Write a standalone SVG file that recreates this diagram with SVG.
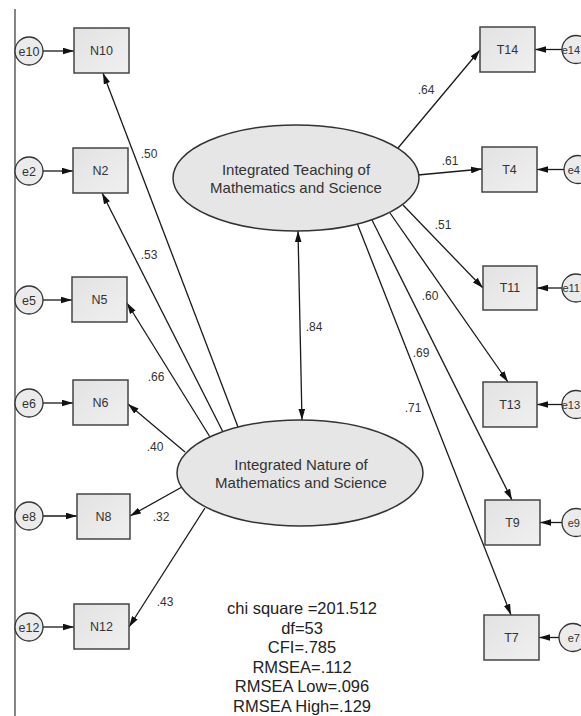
<svg xmlns="http://www.w3.org/2000/svg" width="581" height="716" viewBox="0 0 581 716">
<defs>
<linearGradient id="bg" x1="0" y1="0" x2="1" y2="1"><stop offset="0" stop-color="#e2e2e2"/><stop offset="1" stop-color="#f0f0f0"/></linearGradient>
<marker id="ah" viewBox="0 0 10 6" refX="10" refY="3" markerWidth="11" markerHeight="7" orient="auto-start-reverse" markerUnits="userSpaceOnUse"><path d="M0,0 L10,3 L0,6 z" fill="#111"/></marker>
<style>
.box{fill:url(#bg);stroke:#444;stroke-width:1.5}
.err{fill:#ebebeb;stroke:#333;stroke-width:1.3}
.lat{fill:#e6e6e6;stroke:#333;stroke-width:1.5}
.ln{stroke:#1a1a1a;stroke-width:1.3;fill:none;marker-end:url(#ah)}
.t{font-family:"Liberation Sans",Arial,sans-serif;font-size:12.5px;fill:#333;text-anchor:middle}
.te{font-family:"Liberation Sans",Arial,sans-serif;font-size:11px;fill:#333;text-anchor:end}
.lb{font-family:"Liberation Sans",Arial,sans-serif;font-size:12px;fill:#333;text-anchor:middle}
.big{font-family:"Liberation Sans",Arial,sans-serif;font-size:15px;fill:#333;text-anchor:middle}
.st{font-family:"Liberation Sans",Arial,sans-serif;font-size:16.5px;fill:#222;text-anchor:middle}
</style>
</defs>
<rect width="581" height="716" fill="#fff"/>
<line x1="15" y1="9" x2="15" y2="716" stroke="#444" stroke-width="1.3"/>
<g id="connectors">
<line class="ln" x1="43" y1="51" x2="74" y2="51"/>
<line class="ln" x1="43" y1="171" x2="73" y2="171"/>
<line class="ln" x1="43" y1="300" x2="72" y2="300"/>
<line class="ln" x1="43" y1="403" x2="73" y2="403"/>
<line class="ln" x1="43" y1="516" x2="77" y2="516"/>
<line class="ln" x1="43" y1="627" x2="74" y2="627"/>
<line class="ln" x1="562" y1="49.5" x2="535" y2="49.5"/>
<line class="ln" x1="564" y1="169.5" x2="537" y2="169.5"/>
<line class="ln" x1="562" y1="288" x2="537" y2="288"/>
<line class="ln" x1="562" y1="404.5" x2="537" y2="404.5"/>
<line class="ln" x1="562" y1="522.5" x2="540" y2="522.5"/>
<line class="ln" x1="559" y1="637.5" x2="539" y2="637.5"/>
<line class="ln" x1="238" y1="427" x2="103" y2="73"/>
<line class="ln" x1="223" y1="432" x2="102" y2="193"/>
<line class="ln" x1="210" y1="437" x2="127" y2="303"/>
<line class="ln" x1="185" y1="452" x2="128" y2="404"/>
<line class="ln" x1="182" y1="487" x2="130" y2="516"/>
<line class="ln" x1="205" y1="508" x2="129" y2="627"/>
<line class="ln" x1="398" y1="148" x2="480" y2="50"/>
<line class="ln" x1="418" y1="175" x2="482" y2="169"/>
<line class="ln" x1="403" y1="205" x2="483" y2="288"/>
<line class="ln" x1="390" y1="213" x2="508" y2="382"/>
<line class="ln" x1="372" y1="220" x2="512" y2="500"/>
<line class="ln" x1="357" y1="223" x2="511" y2="615"/>
<line class="ln" x1="298" y1="231" x2="302" y2="420" marker-start="url(#ah)"/>
</g>
<g id="labels">
<text class="lb" x="149" y="158">.50</text>
<text class="lb" x="149" y="259">.53</text>
<text class="lb" x="156" y="381">.66</text>
<text class="lb" x="155" y="451">.40</text>
<text class="lb" x="161" y="521">.32</text>
<text class="lb" x="165" y="606">.43</text>
<text class="lb" x="426" y="94">.64</text>
<text class="lb" x="450" y="165">.61</text>
<text class="lb" x="443" y="229">.51</text>
<text class="lb" x="430" y="300">.60</text>
<text class="lb" x="421" y="357">.69</text>
<text class="lb" x="413" y="412">.71</text>
<text class="lb" x="314" y="331">.84</text>
</g>
<g id="F2"><ellipse class="lat" cx="296" cy="178" rx="123" ry="53"/><text class="big" x="296" y="175">Integrated Teaching of</text><text class="big" x="296" y="193">Mathematics and Science</text></g>
<g id="F1"><ellipse class="lat" cx="300" cy="473" rx="123" ry="53"/><text class="big" x="301" y="470">Integrated Nature of</text><text class="big" x="301" y="488">Mathematics and Science</text></g>
<g id="N10"><rect class="box" x="74" y="28" width="55" height="45"/><text class="t" x="101.5" y="55">N10</text></g>
<g id="N2"><rect class="box" x="73" y="148" width="55" height="45"/><text class="t" x="100.5" y="175">N2</text></g>
<g id="N5"><rect class="box" x="72" y="277" width="55" height="45"/><text class="t" x="99.5" y="304">N5</text></g>
<g id="N6"><rect class="box" x="73" y="380" width="55" height="45"/><text class="t" x="100.5" y="407">N6</text></g>
<g id="N8"><rect class="box" x="77" y="494" width="53" height="45"/><text class="t" x="103.5" y="521">N8</text></g>
<g id="N12"><rect class="box" x="74" y="604" width="55" height="45"/><text class="t" x="101.5" y="631">N12</text></g>
<g id="T14"><rect class="box" x="480" y="27" width="55" height="45"/><text class="t" x="507.5" y="54">T14</text></g>
<g id="T4"><rect class="box" x="482" y="147" width="55" height="45"/><text class="t" x="509.5" y="174">T4</text></g>
<g id="T11"><rect class="box" x="483" y="266" width="54" height="44"/><text class="t" x="510" y="292">T11</text></g>
<g id="T13"><rect class="box" x="483" y="382" width="54" height="45"/><text class="t" x="510" y="409">T13</text></g>
<g id="T9"><rect class="box" x="485" y="500" width="55" height="45"/><text class="t" x="512.5" y="527">T9</text></g>
<g id="T7"><rect class="box" x="484" y="615" width="55" height="45"/><text class="t" x="511.5" y="642">T7</text></g>
<g id="e10"><circle class="err" cx="29" cy="51" r="14"/><text class="t" x="29" y="55.5">e10</text></g>
<g id="e2"><circle class="err" cx="29" cy="171" r="14"/><text class="t" x="29" y="175.5">e2</text></g>
<g id="e5"><circle class="err" cx="29" cy="300" r="14"/><text class="t" x="29" y="304.5">e5</text></g>
<g id="e6"><circle class="err" cx="29" cy="403" r="14"/><text class="t" x="29" y="407.5">e6</text></g>
<g id="e8"><circle class="err" cx="29" cy="516" r="14"/><text class="t" x="29" y="520.5">e8</text></g>
<g id="e12"><circle class="err" cx="29" cy="627" r="14"/><text class="t" x="29" y="631.5">e12</text></g>
<g id="e14"><circle class="err" cx="576" cy="49.5" r="14"/><text class="te" x="580" y="53.5">e14</text></g>
<g id="e4"><circle class="err" cx="578" cy="169.5" r="14"/><text class="te" x="580" y="173.5">e4</text></g>
<g id="e11"><circle class="err" cx="576" cy="288" r="14"/><text class="te" x="580" y="292">e11</text></g>
<g id="e13"><circle class="err" cx="576" cy="404.5" r="14"/><text class="te" x="580" y="408.5">e13</text></g>
<g id="e9"><circle class="err" cx="576" cy="522.5" r="14"/><text class="te" x="580" y="526.5">e9</text></g>
<g id="e7"><circle class="err" cx="573" cy="637.5" r="14"/><text class="te" x="580" y="641.5">e7</text></g>
<g id="stats">
<text class="st" x="302" y="614">chi square =201.512</text>
<text class="st" x="302" y="633.5">df=53</text>
<text class="st" x="302" y="653">CFI=.785</text>
<text class="st" x="302" y="672.5">RMSEA=.112</text>
<text class="st" x="302" y="692">RMSEA Low=.096</text>
<text class="st" x="302" y="711.5">RMSEA High=.129</text>
</g>
</svg>
